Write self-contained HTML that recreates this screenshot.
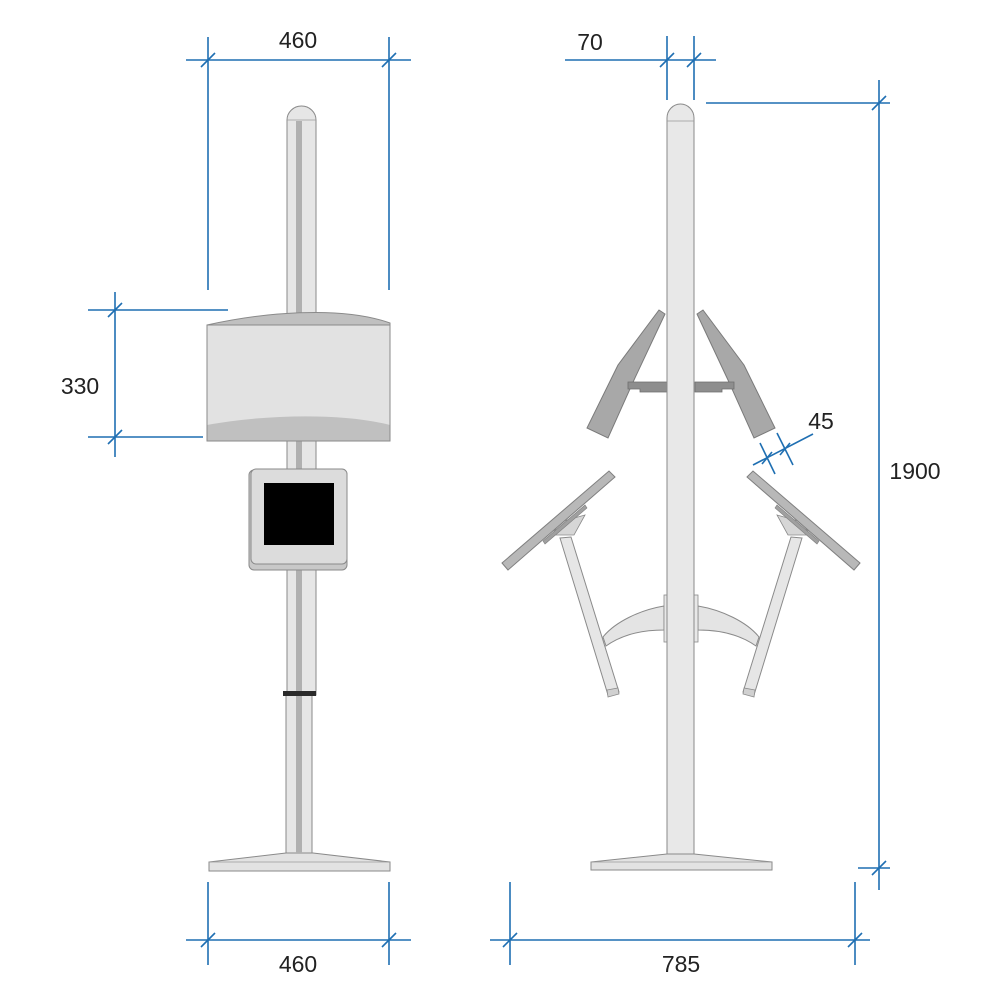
<!DOCTYPE html>
<html><head><meta charset="utf-8"><style>html,body{margin:0;padding:0;background:#fff}svg{display:block}</style></head>
<body>
<svg width="1000" height="1000" viewBox="0 0 1000 1000" xmlns="http://www.w3.org/2000/svg" font-family="Liberation Sans, sans-serif">
<defs>
<g id="side">
  <!-- upper panel -->
  <polygon points="659,310 665,314 634,380 608,438 587,428 618,365" fill="#a8a8a8" stroke="#7a7a7a" stroke-width="1"/>
  <polygon points="628,382 667,382 667,392 640,392 640,389 628,389" fill="#8e8e8e" stroke="#6e6e6e" stroke-width="0.8"/>
  <!-- lower arm -->
  <polygon points="560,538 571,537 619,692 608,695" fill="#e6e6e6" stroke="#8a8a8a" stroke-width="1"/>
  <polygon points="607,690 618,688 619,694 608,697" fill="#d0d0d0" stroke="#8a8a8a" stroke-width="0.8"/>
  <polygon points="552,535 574,535 585,515 560,522" fill="#d6d6d6" stroke="#8a8a8a" stroke-width="0.8"/>
  <!-- panel -->
  <polygon points="502,563 609,471 615,477 508,570" fill="#b8b8b8" stroke="#7f7f7f" stroke-width="1"/>
  <polygon points="543,541 585,505 587,508 545,544" fill="#a0a0a0" stroke="#7f7f7f" stroke-width="0.6"/>
  <!-- bracket -->
  <path d="M664,606 C640,610 615,622 603,637 L606,646 C620,636 640,630 664,630 Z" fill="#e4e4e4" stroke="#8a8a8a" stroke-width="1"/>
  <rect x="664" y="595" width="4" height="47" fill="#e8e8e8" stroke="#8a8a8a" stroke-width="0.8"/>
</g>
</defs>

<!-- LEFT VIEW -->
<!-- base -->
<path d="M209,862 L286,853 L313,853 L390,862 L390,871 L209,871 Z" fill="#e2e2e2" stroke="#8a8a8a" stroke-width="1"/>
<line x1="209" y1="862" x2="390" y2="862" stroke="#9a9a9a" stroke-width="0.8"/>
<!-- lower pole -->
<rect x="286" y="695" width="26" height="158" fill="#e6e6e6" stroke="#8a8a8a" stroke-width="1"/>
<rect x="296" y="695" width="6" height="158" fill="#b0b0b0"/>
<!-- upper pole -->
<path d="M287,120 L287,695 L316,695 L316,120 A14.5,14 0 0 0 287,120 Z" fill="#e6e6e6" stroke="#8a8a8a" stroke-width="1"/>
<line x1="287" y1="120" x2="316" y2="120" stroke="#9a9a9a" stroke-width="0.8"/>
<rect x="296" y="121" width="6" height="574" fill="#b0b0b0"/>
<rect x="283" y="691" width="33" height="5" fill="#2a2a2a"/>
<!-- box -->
<path d="M207,325 C260,313 340,305 390,323 L390,441 L207,441 Z" fill="#c0c0c0" stroke="#8a8a8a" stroke-width="1"/>
<path d="M207,325 L390,325 L390,425 C340,412 260,415 207,425 Z" fill="#e2e2e2" stroke="none"/>
<rect x="207" y="325" width="183" height="116" fill="none" stroke="#8a8a8a" stroke-width="1"/>
<!-- tablet -->
<rect x="249" y="470" width="98" height="100" rx="5" fill="#c8c8c8" stroke="#8a8a8a" stroke-width="1"/>
<rect x="251" y="469" width="96" height="95" rx="5" fill="#dcdcdc" stroke="#8a8a8a" stroke-width="1"/>
<rect x="264" y="483" width="70" height="62" fill="#000"/>

<!-- RIGHT VIEW -->
<path d="M591,862 L667,854 L694,854 L772,862 L772,870 L591,870 Z" fill="#e2e2e2" stroke="#8a8a8a" stroke-width="1"/>
<line x1="591" y1="862" x2="772" y2="862" stroke="#9a9a9a" stroke-width="0.8"/>
<use href="#side"/>
<use href="#side" transform="translate(1362,0) scale(-1,1)"/>
<path d="M667,118 L667,854 L694,854 L694,118 A13.5,14 0 0 0 667,118 Z" fill="#e8e8e8" stroke="#8a8a8a" stroke-width="1"/>
<line x1="667" y1="121" x2="694" y2="121" stroke="#9a9a9a" stroke-width="0.8"/>

<!-- DIMENSIONS -->
<g stroke="#1f6fb2" stroke-width="1.6" fill="none">
  <!-- top 460 -->
  <line x1="186" y1="60" x2="411" y2="60"/>
  <line x1="208" y1="37" x2="208" y2="290"/>
  <line x1="389" y1="37" x2="389" y2="290"/>
  <line x1="201" y1="67" x2="215" y2="53"/><line x1="382" y1="67" x2="396" y2="53"/>
  <!-- 330 -->
  <line x1="115" y1="292" x2="115" y2="457"/>
  <line x1="88" y1="310" x2="228" y2="310"/>
  <line x1="88" y1="437" x2="203" y2="437"/>
  <line x1="108" y1="317" x2="122" y2="303"/><line x1="108" y1="444" x2="122" y2="430"/>
  <!-- bottom 460 -->
  <line x1="186" y1="940" x2="411" y2="940"/>
  <line x1="208" y1="882" x2="208" y2="965"/>
  <line x1="389" y1="882" x2="389" y2="965"/>
  <line x1="201" y1="947" x2="215" y2="933"/><line x1="382" y1="947" x2="396" y2="933"/>
  <!-- 70 -->
  <line x1="565" y1="60" x2="716" y2="60"/>
  <line x1="667" y1="36" x2="667" y2="100"/>
  <line x1="694" y1="36" x2="694" y2="100"/>
  <line x1="660" y1="67" x2="674" y2="53"/><line x1="687" y1="67" x2="701" y2="53"/>
  <!-- 1900 -->
  <line x1="879" y1="80" x2="879" y2="890"/>
  <line x1="706" y1="103" x2="890" y2="103"/>
  <line x1="858" y1="868" x2="890" y2="868"/>
  <line x1="872" y1="110" x2="886" y2="96"/><line x1="872" y1="875" x2="886" y2="861"/>
  <!-- 785 -->
  <line x1="490" y1="940" x2="870" y2="940"/>
  <line x1="510" y1="882" x2="510" y2="965"/>
  <line x1="855" y1="882" x2="855" y2="965"/>
  <line x1="503" y1="947" x2="517" y2="933"/><line x1="848" y1="947" x2="862" y2="933"/>
  <!-- 45 -->
  <line x1="753" y1="465" x2="813" y2="434"/>
  <line x1="760" y1="443" x2="775" y2="474"/>
  <line x1="777" y1="433" x2="793" y2="465"/>
  <line x1="762" y1="464" x2="772" y2="452"/><line x1="780" y1="455" x2="790" y2="443"/>
</g>
<g fill="#222" font-size="23">
  <text x="298" y="48" text-anchor="middle">460</text>
  <text x="80" y="394" text-anchor="middle">330</text>
  <text x="298" y="972" text-anchor="middle">460</text>
  <text x="590" y="50" text-anchor="middle">70</text>
  <text x="915" y="479" text-anchor="middle">1900</text>
  <text x="681" y="972" text-anchor="middle">785</text>
  <text x="821" y="429" text-anchor="middle">45</text>
</g>
</svg>
</body></html>
